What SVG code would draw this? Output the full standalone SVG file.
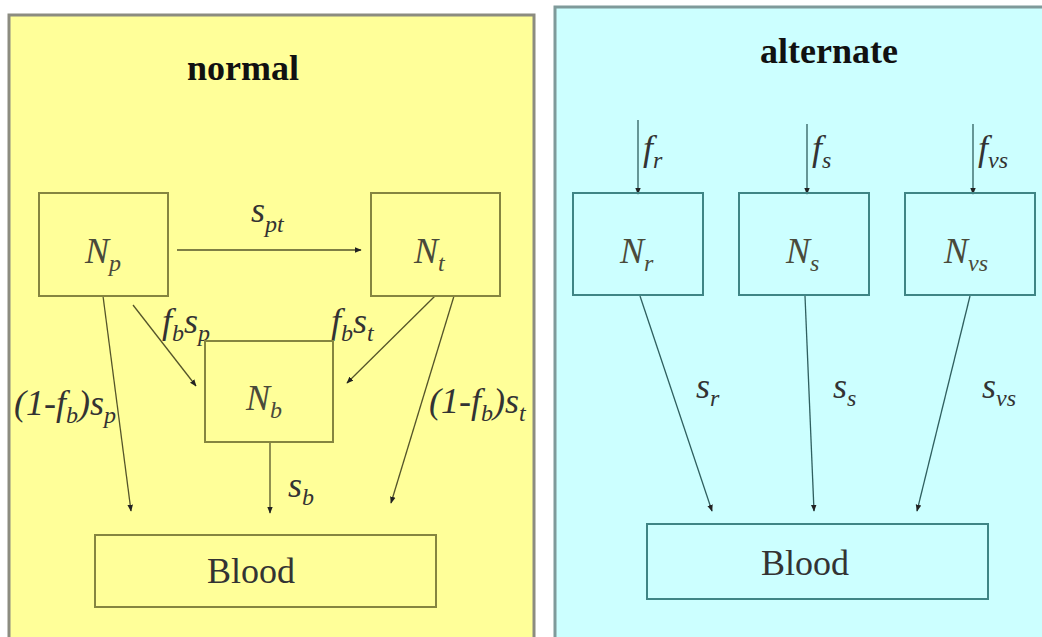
<svg xmlns="http://www.w3.org/2000/svg" width="1042" height="637" viewBox="0 0 1042 637">
<style>
.title{font-family:'Liberation Serif','Times New Roman',Times,'DejaVu Serif',serif;font-weight:bold;font-size:36px;fill:#111;text-anchor:middle}
.m{font-family:'Liberation Serif','Times New Roman',Times,'DejaVu Serif',serif;font-style:italic;font-size:36px;fill:#333}
.n{fill:#4a4a3a}
.sub{font-size:24px}
.plain{font-family:'Liberation Serif','Times New Roman',Times,'DejaVu Serif',serif;font-size:36px;fill:#333;text-anchor:middle}
.ny{fill:none;stroke:#858540;stroke-width:2}
.nc{fill:none;stroke:#3f8585;stroke-width:2}
.cy{stroke:#55552a;stroke-width:1.3;fill:none}
.cc{stroke:#2f5f5f;stroke-width:1.3;fill:none}
</style>
<defs>
<marker id="ah" viewBox="0 0 10 10" refX="9" refY="5" markerWidth="7" markerHeight="7" markerUnits="userSpaceOnUse" orient="auto">
<path d="M0,1 L10,5 L0,9 Z" fill="#222"/>
</marker>
</defs>
<rect width="1042" height="637" fill="#fff"/>
<g id="panel-normal">
<rect x="9" y="15" width="525" height="640" fill="#ffff99" stroke="#8c8c80" stroke-width="3"/>
<text class="title" x="243" y="80">normal</text>
</g>
<g id="panel-alternate">
<rect x="555" y="7" width="500" height="650" fill="#ccffff" stroke="#7f9a9a" stroke-width="3"/>
<text class="title" x="829" y="63">alternate</text>
</g>
<g id="connectors">
<line class="cy" x1="177" y1="250" x2="361" y2="250" marker-end="url(#ah)"/>
<line class="cy" x1="103" y1="296" x2="131" y2="511" marker-end="url(#ah)"/>
<line class="cy" x1="133" y1="305" x2="196" y2="386" marker-end="url(#ah)"/>
<line class="cy" x1="435" y1="296" x2="347" y2="383" marker-end="url(#ah)"/>
<line class="cy" x1="454" y1="296" x2="391" y2="503" marker-end="url(#ah)"/>
<line class="cy" x1="270" y1="442" x2="270" y2="513" marker-end="url(#ah)"/>
<line class="cc" x1="638" y1="120" x2="638" y2="194" marker-end="url(#ah)"/>
<line class="cc" x1="807" y1="124" x2="807" y2="194" marker-end="url(#ah)"/>
<line class="cc" x1="973" y1="124" x2="973" y2="194" marker-end="url(#ah)"/>
<line class="cc" x1="640" y1="296" x2="712" y2="511" marker-end="url(#ah)"/>
<line class="cc" x1="805" y1="296" x2="814" y2="511" marker-end="url(#ah)"/>
<line class="cc" x1="970" y1="296" x2="917" y2="511" marker-end="url(#ah)"/>
<text class="m" x="251" y="222">s<tspan class="sub" dy="10">pt</tspan></text>
<text class="m" x="162" y="333">f<tspan class="sub" dy="8">b</tspan><tspan dy="-8">s</tspan><tspan class="sub" dy="8">p</tspan></text>
<text class="m" x="331" y="333">f<tspan class="sub" dy="8">b</tspan><tspan dy="-8">s</tspan><tspan class="sub" dy="8">t</tspan></text>
<text class="m" x="14" y="415">(1-f<tspan class="sub" dy="8">b</tspan><tspan dy="-8">)s</tspan><tspan class="sub" dy="8">p</tspan></text>
<text class="m" x="429" y="413">(1-f<tspan class="sub" dy="8">b</tspan><tspan dy="-8">)s</tspan><tspan class="sub" dy="8">t</tspan></text>
<text class="m" x="288" y="497">s<tspan class="sub" dy="8">b</tspan></text>
<text class="m" x="643" y="160">f<tspan class="sub" dy="8">r</tspan></text>
<text class="m" x="812" y="160">f<tspan class="sub" dy="8">s</tspan></text>
<text class="m" x="978" y="160">f<tspan class="sub" dy="8">vs</tspan></text>
<text class="m" x="696" y="398">s<tspan class="sub" dy="8">r</tspan></text>
<text class="m" x="833" y="398">s<tspan class="sub" dy="8">s</tspan></text>
<text class="m" x="982" y="398">s<tspan class="sub" dy="8">vs</tspan></text>
</g>
<g id="node-Np">
<rect class="ny" x="39" y="193" width="129" height="103"/>
<text class="m n" x="85" y="263">N<tspan class="sub" dy="8">p</tspan></text>
</g>
<g id="node-Nt">
<rect class="ny" x="371" y="193" width="129" height="103"/>
<text class="m n" x="414" y="263">N<tspan class="sub" dy="8">t</tspan></text>
</g>
<g id="node-Nb">
<rect class="ny" x="205" y="341" width="128" height="101"/>
<text class="m n" x="246" y="410">N<tspan class="sub" dy="8">b</tspan></text>
</g>
<g id="node-blood-normal">
<rect class="ny" x="95" y="535" width="341" height="72"/>
<text class="plain" x="251" y="583">Blood</text>
</g>
<g id="node-Nr">
<rect class="nc" x="573" y="193" width="130" height="102"/>
<text class="m n" x="620" y="263">N<tspan class="sub" dy="8">r</tspan></text>
</g>
<g id="node-Ns">
<rect class="nc" x="739" y="193" width="130" height="102"/>
<text class="m n" x="786" y="263">N<tspan class="sub" dy="8">s</tspan></text>
</g>
<g id="node-Nvs">
<rect class="nc" x="905" y="193" width="130" height="102"/>
<text class="m n" x="944" y="263">N<tspan class="sub" dy="8">vs</tspan></text>
</g>
<g id="node-blood-alternate">
<rect class="nc" x="647" y="524" width="341" height="75"/>
<text class="plain" x="805" y="575">Blood</text>
</g>
</svg>
